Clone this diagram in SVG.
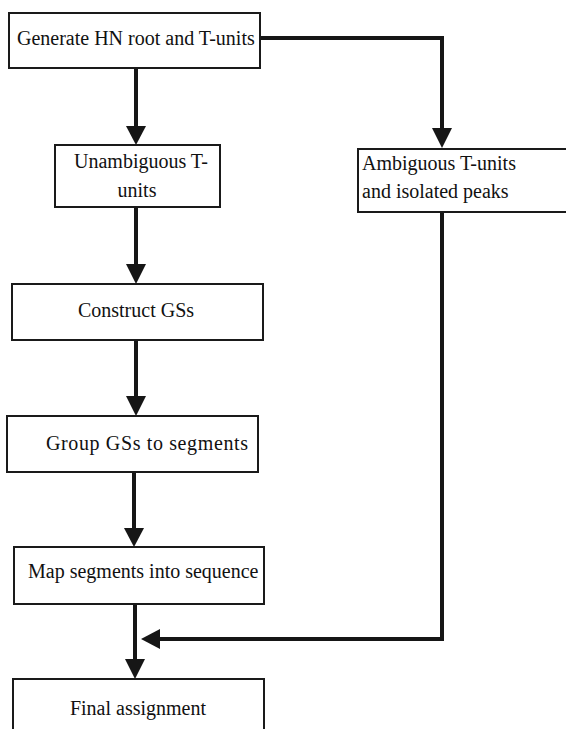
<svg xmlns="http://www.w3.org/2000/svg" width="566" height="729" viewBox="0 0 566 729">
<defs>
<style>
.box{fill:#fff;stroke:#1a1a1a;stroke-width:2}
.t{font-family:"Liberation Serif","Times New Roman",serif;font-size:20px;fill:#111}
.c{fill:none;stroke:#161616;stroke-width:4}
.h{fill:#161616;stroke:none}
</style>
</defs>
<rect width="566" height="729" fill="#fff"/>
<g id="connectors">
<line class="c" x1="136" y1="68" x2="136" y2="128"/>
<polygon class="h" points="126,126 146,126 136,145"/>
<polyline class="c" points="260,38 442,38 442,130"/>
<polygon class="h" points="432,128 452,128 442,148"/>
<line class="c" x1="136" y1="207" x2="136" y2="266"/>
<polygon class="h" points="126,264 146,264 136,284"/>
<line class="c" x1="136" y1="340" x2="136" y2="398"/>
<polygon class="h" points="126,396 146,396 136,416"/>
<line class="c" x1="134" y1="471" x2="134" y2="530"/>
<polygon class="h" points="124,528 144,528 134,547"/>
<line class="c" x1="135" y1="601" x2="135" y2="661"/>
<polygon class="h" points="125,659 145,659 135,679"/>
<polyline class="c" points="442,212 442,639 158,639"/>
<polygon class="h" points="160,629 160,649 141,639"/>
</g>
<g id="n1">
<rect class="box" x="9" y="13" width="251" height="55"/>
<text class="t" x="17" y="45">Generate HN root and T-units</text>
</g>
<g id="n2">
<rect class="box" x="55" y="145" width="165" height="62"/>
<text class="t" x="74" y="168">Unambiguous T-</text>
<text class="t" x="137" y="197" text-anchor="middle">units</text>
</g>
<g id="n3">
<rect class="box" x="358" y="149" width="210" height="63"/>
<text class="t" x="362" y="170">Ambiguous T-units</text>
<text class="t" x="362" y="198">and isolated peaks</text>
</g>
<g id="n4">
<rect class="box" x="12" y="284" width="251" height="56"/>
<text class="t" x="136" y="317" text-anchor="middle">Construct GSs</text>
</g>
<g id="n5">
<rect class="box" x="7" y="416" width="251" height="56"/>
<text class="t" x="46" y="450" textLength="202" lengthAdjust="spacing">Group GSs to segments</text>
</g>
<g id="n6">
<rect class="box" x="14" y="547" width="250" height="57"/>
<text class="t" x="28" y="578">Map segments into sequence</text>
</g>
<g id="n7">
<rect class="box" x="13" y="679" width="251" height="60"/>
<text class="t" x="138" y="715" text-anchor="middle">Final assignment</text>
</g>
</svg>
